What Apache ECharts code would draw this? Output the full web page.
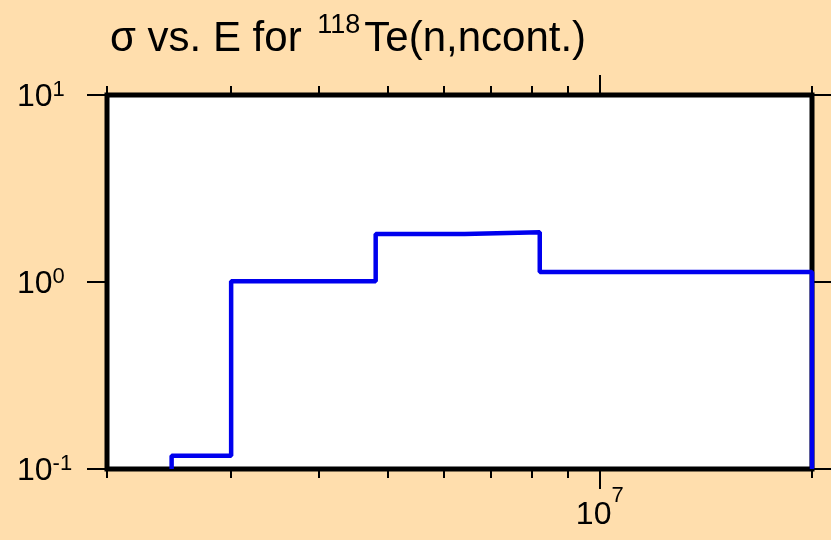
<!DOCTYPE html>
<html>
<head>
<meta charset="utf-8">
<script src="https://cdn.jsdelivr.net/npm/echarts@6/dist/echarts.min.js"></script>
<style>
html, body { margin: 0; padding: 0; background: #ffdead; }
#main { width: 831px; height: 540px; }
</style>
</head>
<body>
<div id="main"></div>
<script>
// bin edges (eV) and cross sections (b)
var edges = [2.47e6, 3.0e6, 4.81e6, 6.43e6, 8.22e6, 2.0e7];
var sigma = [0.1176, 1.01, 1.806, 1.845, 1.131];

var xMin = 2e6, xMax = 2e7;
var yMin = 0.1, yMax = 10;
var minorTicks = [2e6, 3e6, 4e6, 5e6, 6e6, 7e6, 8e6, 9e6, 2e7];
var majorTicks = [1e7];

var font = 'Liberation Sans, Arial, sans-serif';

// step outline: rise from the floor at the first edge, drop back at the last
var pts = [[edges[0], yMin]];
for (var i = 0; i < sigma.length; i++) {
    pts.push([edges[i], sigma[i]]);
}
pts.push([edges[edges.length - 1], sigma[sigma.length - 1]]);
pts.push([edges[edges.length - 1], yMin]);

function expLabel(v) {
    return '{b|10}{s|' + Math.round(Math.log10(v)) + '}';
}

function xAx(pos, ticks, len, labels) {
    return {
        type : 'log',
        logBase : 10,
        min : xMin,
        max : xMax,
        position : pos,
        axisLine : { show : false },
        splitLine : { show : false },
        axisTick : {
            show : true,
            inside : false,
            length : len,
            customValues : ticks,
            lineStyle : { color : '#000', width : 2 }
        },
        axisLabel : labels ? {
            show : true,
            customValues : labels,
            margin : 15.5,
            formatter : expLabel,
            rich : {
                b : { fontFamily : font, fontSize : 32, color : '#000', lineHeight : 62 },
                s : { fontFamily : font, fontSize : 22, color : '#000', lineHeight : 26, verticalAlign : 'top' }
            }
        } : { show : false }
    };
}

function yAx(pos, showLabel) {
    return {
        type : 'log',
        logBase : 10,
        min : yMin,
        max : yMax,
        position : pos,
        axisLine : { show : false },
        splitLine : { show : false },
        axisTick : {
            show : true,
            inside : false,
            length : 20,
            lineStyle : { color : '#000', width : 2 }
        },
        axisLabel : showLabel ? {
            show : true,
            align : 'left',
            margin : 90,
            padding : [4, 0, 0, 0],
            formatter : expLabel,
            rich : {
                b : { fontFamily : font, fontSize : 32, color : '#000', lineHeight : 36 },
                s : { fontFamily : font, fontSize : 22, color : '#000', lineHeight : 26, verticalAlign : 'top' }
            }
        } : { show : false }
    };
}

var myChart = echarts.init(document.getElementById('main'), null, { renderer : 'canvas' });
var option = {
    backgroundColor : '#ffdead',
    animation : false,
    title : {
        text : '{a|\u03c3 vs. E for }{s|118}{a|Te(n,ncont.)}',
        left : 110,
        top : 12,
        padding : 0,
        textStyle : {
            fontWeight : 'normal',
            rich : {
                a : { fontFamily : font, fontSize : 42, fontWeight : 'normal', color : '#000', lineHeight : 54 },
                s : { fontFamily : font, fontSize : 27, fontWeight : 'normal', color : '#000', lineHeight : 12, verticalAlign : 'top', padding : [0, 4, 0, 4] }
            }
        }
    },
    grid : {
        left : 107,
        right : 19,
        top : 95,
        bottom : 71,
        show : true,
        backgroundColor : '#ffffff',
        borderColor : '#000',
        borderWidth : 5
    },
    xAxis : [
        xAx('bottom', minorTicks, 9, null),
        xAx('bottom', majorTicks, 20, majorTicks),
        xAx('top', minorTicks, 9, null),
        xAx('top', majorTicks, 20, null)
    ],
    yAxis : [
        yAx('left', true),
        yAx('right', false)
    ],
    series : [{
        type : 'line',
        step : 'end',
        xAxisIndex : 0,
        yAxisIndex : 0,
        showSymbol : false,
        symbol : 'none',
        lineStyle : { color : '#0000ee', width : 4.5 },
        data : pts
    }]
};
myChart.setOption(option);
</script>
</body>
</html>
